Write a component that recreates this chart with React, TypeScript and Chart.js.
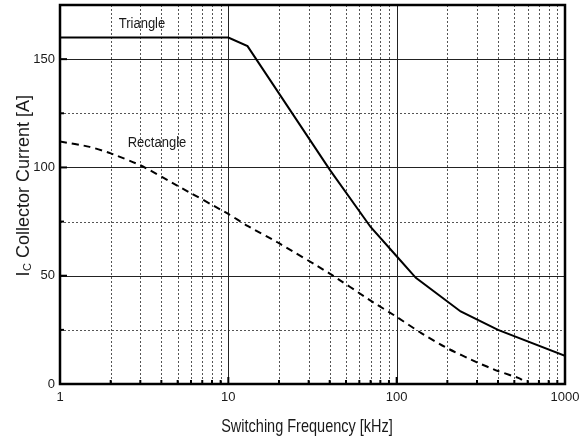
import React, { useEffect, useRef } from "react";
import { Chart, registerables } from "chart.js";

Chart.register(...registerables);

// Collector current vs switching frequency, two waveform shapes
const triangleFreq = [1, 10, 13, 40, 70, 100, 130, 240, 400, 1000];
const triangleCurrent = [160, 160, 156, 99, 72.5, 59, 49, 33.5, 25, 13];

const rectangleFreq = [1, 1.5, 2, 3, 5, 10, 13, 20, 40, 70, 100, 140, 200, 300, 400, 540, 580];
const rectangleCurrent = [112, 109.5, 106.5, 101, 91.5, 78.5, 73, 65, 51, 38.5, 31, 23.5, 16.5, 10, 6, 2.5, 0.8];

// Axis ticks and grid values
const xMajorTicks = [1, 10, 100, 1000];
const xMinorTicks = [2, 3, 4, 5, 6, 7, 8, 9, 20, 30, 40, 50, 60, 70, 80, 90, 200, 300, 400, 500, 600, 700, 800, 900];
const yMajorTicks = [0, 50, 100, 150];
const yMinorTicks = [25, 75, 125];
const yMax = 175;

const FONT = '"Liberation Sans", Arial, Helvetica, sans-serif';
const TEXT = "#1a1a1a";

// text drawn slightly taller than its width, like the printed datasheet lettering
function tallText(ctx: any, text: string, x: number, baseline: number, size: number, sy: number) {
  ctx.save();
  ctx.translate(x, baseline);
  ctx.scale(1, sy);
  ctx.font = `${size}px ${FONT}`;
  ctx.textAlign = "center";
  ctx.textBaseline = "alphabetic";
  ctx.fillText(text, 0, 0);
  ctx.restore();
}

const gridAndFrame = {
  id: "gridAndFrame",
  beforeDatasetsDraw(chart: any) {
    const { ctx, chartArea: a, scales } = chart;
    const x = scales.x;
    const y = scales.y;
    ctx.save();
    ctx.lineWidth = 1;
    // dotted minor grid
    ctx.strokeStyle = "#555";
    ctx.setLineDash([2, 2]);
    for (const v of xMinorTicks) {
      const px = Math.round(x.getPixelForValue(v)) + 0.5;
      ctx.beginPath();
      ctx.moveTo(px, a.top);
      ctx.lineTo(px, a.bottom);
      ctx.stroke();
    }
    for (const v of yMinorTicks) {
      const py = Math.round(y.getPixelForValue(v)) + 0.5;
      ctx.beginPath();
      ctx.moveTo(a.left, py);
      ctx.lineTo(a.right, py);
      ctx.stroke();
    }
    // solid major grid
    ctx.setLineDash([]);
    ctx.strokeStyle = "#222";
    for (const v of xMajorTicks.slice(1, -1)) {
      const px = Math.round(x.getPixelForValue(v)) + 0.5;
      ctx.beginPath();
      ctx.moveTo(px, a.top);
      ctx.lineTo(px, a.bottom);
      ctx.stroke();
    }
    for (const v of yMajorTicks.slice(1)) {
      const py = Math.round(y.getPixelForValue(v)) + 0.5;
      ctx.beginPath();
      ctx.moveTo(a.left, py);
      ctx.lineTo(a.right, py);
      ctx.stroke();
    }
    ctx.restore();
  },
  afterDatasetsDraw(chart: any) {
    const { ctx, chartArea: a, scales } = chart;
    const x = scales.x;
    const y = scales.y;
    ctx.save();
    // inward tick marks
    ctx.strokeStyle = "#000";
    ctx.lineWidth = 2;
    for (const v of xMinorTicks) {
      const px = x.getPixelForValue(v);
      ctx.beginPath();
      ctx.moveTo(px, a.bottom);
      ctx.lineTo(px, a.bottom - 4);
      ctx.stroke();
    }
    for (const v of xMajorTicks.slice(1, -1)) {
      const px = x.getPixelForValue(v);
      ctx.beginPath();
      ctx.moveTo(px, a.bottom);
      ctx.lineTo(px, a.bottom - 7);
      ctx.stroke();
    }
    for (const v of yMinorTicks) {
      const py = y.getPixelForValue(v);
      ctx.beginPath();
      ctx.moveTo(a.left, py);
      ctx.lineTo(a.left + 4, py);
      ctx.stroke();
    }
    for (const v of yMajorTicks.slice(1)) {
      const py = y.getPixelForValue(v);
      ctx.beginPath();
      ctx.moveTo(a.left, py);
      ctx.lineTo(a.left + 7, py);
      ctx.stroke();
    }
    // plot frame
    ctx.lineWidth = 2.5;
    ctx.strokeRect(a.left, a.top, a.right - a.left, a.bottom - a.top);

    // curve labels
    ctx.fillStyle = TEXT;
    tallText(ctx, "Triangle", 142, 27.5, 13, 1.15);
    tallText(ctx, "Rectangle", 157, 146.5, 13, 1.15);

    // x axis title
    tallText(ctx, "Switching Frequency [kHz]", 307, 432, 14.5, 1.25);

    // y axis title with subscript
    ctx.translate(29, 186);
    ctx.rotate(-Math.PI / 2);
    ctx.textAlign = "left";
    ctx.textBaseline = "alphabetic";
    const main = `18px ${FONT}`;
    const sub = `11px ${FONT}`;
    ctx.font = main;
    const wI = ctx.measureText("I").width;
    const rest = " Collector Current [A]";
    const wRest = ctx.measureText(rest).width;
    ctx.font = sub;
    const wC = ctx.measureText("C").width;
    const total = wI + wC + wRest;
    let cx = -total / 2;
    ctx.font = main;
    ctx.fillText("I", cx, 0);
    cx += wI + 0.5;
    ctx.font = sub;
    ctx.fillText("C", cx, 1.5);
    cx += wC;
    ctx.font = main;
    ctx.fillText(rest, cx, 0);
    ctx.restore();
  },
};

export default function App() {
  const ref = useRef<HTMLCanvasElement | null>(null);

  useEffect(() => {
    if (!ref.current) return;
    const chart = new Chart(ref.current, {
      type: "line",
      data: {
        datasets: [
          {
            label: "Triangle",
            data: triangleFreq.map((f, i) => ({ x: f, y: triangleCurrent[i] })),
            borderColor: "#000",
            borderWidth: 2,
            pointRadius: 0,
            tension: 0,
            fill: false,
          },
          {
            label: "Rectangle",
            data: rectangleFreq.map((f, i) => ({ x: f, y: rectangleCurrent[i] })),
            borderColor: "#000",
            borderWidth: 2,
            borderDash: [7, 5],
            pointRadius: 0,
            tension: 0.2,
            fill: false,
          },
        ],
      },
      options: {
        animation: false,
        responsive: false,
        devicePixelRatio: 1,
        layout: { padding: { top: 5, right: 22, left: 0, bottom: 0 } },
        plugins: {
          legend: { display: false },
          tooltip: { enabled: false },
        },
        scales: {
          x: {
            type: "logarithmic",
            min: 1,
            max: 1000,
            grid: { display: false, drawTicks: false },
            border: { display: false },
            afterFit: (s: any) => {
              s.height = 57;
            },
            ticks: {
              autoSkip: false,
              maxRotation: 0,
              padding: 6,
              color: TEXT,
              font: { family: FONT, size: 13 },
              callback: (v: any) => (xMajorTicks.includes(Number(v)) ? String(v) : ""),
            },
          },
          y: {
            type: "linear",
            min: 0,
            max: yMax,
            grid: { display: false, drawTicks: false },
            border: { display: false },
            afterFit: (s: any) => {
              s.width = 60;
              s.paddingTop = 0;
              s.paddingBottom = 0;
            },
            ticks: {
              stepSize: 25,
              padding: 5,
              color: TEXT,
              font: { family: FONT, size: 13 },
              callback: (v: any) => (yMajorTicks.includes(Number(v)) ? String(v) : ""),
            },
          },
        },
      },
      plugins: [gridAndFrame],
    });
    return () => chart.destroy();
  }, []);

  return (
    <div style={{ position: "fixed", left: 0, top: 0, width: 587, height: 441, background: "#fff" }}>
      <canvas ref={ref} width={587} height={441} />
    </div>
  );
}
